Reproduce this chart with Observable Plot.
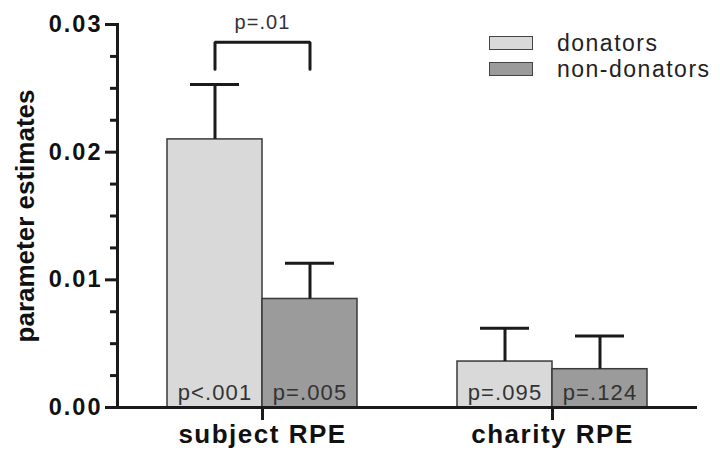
<!DOCTYPE html>
<html>
<head>
<meta charset="utf-8">
<script src="https://cdn.jsdelivr.net/npm/d3@7"></script>
<script src="https://cdn.jsdelivr.net/npm/@observablehq/plot@0.6"></script>
<style>
  body { margin: 0; background: #fff; }
  #chart { position: relative; width: 720px; height: 454px; font-family: "Liberation Sans", Arial, sans-serif; }
  #chart svg text { letter-spacing: 1.1px; }
  #chart svg text.vertical { letter-spacing: 0; }
  .legend { position: absolute; left: 489px; top: 30px; }
  .legend-row { display: flex; align-items: center; height: 26px; font-size: 23px; color: #222; letter-spacing: 1.5px; }
  .swatch { width: 44px; height: 14px; border: 1.5px solid #444; box-sizing: border-box; margin-right: 24px; }
</style>
</head>
<body>
<div id="chart"></div>
<script>
// Categories, groups and the estimates (with standard errors) per group
const categories = ["subject RPE", "charity RPE"];
const groups = ["donators", "non-donators"];
const groupFills = ["#d9d9d9", "#9b9b9b"];
const estimates = [[0.0210, 0.0085], [0.0036, 0.0030]];
const errors = [[0.0043, 0.0028], [0.0026, 0.0026]];
const pValues = [["p<.001", "p=.005"], ["p=.095", "p=.124"]];

// Axis ticks
const yTicks = [0, 0.01, 0.02, 0.03];
const yMinorTicks = [0.0025, 0.005, 0.0075, 0.0125, 0.015, 0.0175, 0.0225, 0.025, 0.0275];
const yLabel = "parameter estimates";

// Between-group comparison for subject RPE
const comparisonCategory = "subject RPE";
const comparisonLabel = "p=.01";
const bracketTop = 0.0286;
const bracketFoot = 0.0265;

const rows = categories.flatMap((category, i) =>
  groups.map((group, j) => ({
    category, group, value: estimates[i][j], se: errors[i][j], p: pValues[i][j]
  }))
);
const bracket = [
  {category: comparisonCategory, group: groups[0], y: bracketFoot},
  {category: comparisonCategory, group: groups[0], y: bracketTop},
  {category: comparisonCategory, group: groups[1], y: bracketTop},
  {category: comparisonCategory, group: groups[1], y: bracketFoot}
];
const comparison = [{category: comparisonCategory, y: bracketTop, label: comparisonLabel}];

const ink = "#1a1a1a";

const chart = Plot.plot({
  width: 720,
  height: 454,
  marginLeft: 117,
  marginRight: 23,
  marginTop: 24,
  marginBottom: 47,
  style: {fontFamily: "'Liberation Sans', Arial, sans-serif", background: "white", color: ink},
  fx: {domain: categories, padding: 0, label: null},
  x: {domain: groups, paddingInner: 0, paddingOuter: 0.52, axis: null},
  y: {domain: [0, 0.03], label: null},
  color: {domain: groups, range: groupFills},
  marks: [
    Plot.barY(rows, {fx: "category", x: "group", y: "value", fill: "group", stroke: "#3a3a3a", strokeWidth: 1.5}),
    Plot.ruleX(rows, {fx: "category", x: "group", y1: "value", y2: d => d.value + d.se, stroke: ink, strokeWidth: 3}),
    Plot.tickY(rows, {fx: "category", x: "group", y: d => d.value + d.se, insetLeft: 23, insetRight: 23, stroke: ink, strokeWidth: 3}),
    Plot.text(rows, {fx: "category", x: "group", y: 0, text: "p", lineAnchor: "bottom", dy: -8, fontSize: 22, fill: "#333"}),
    Plot.line(bracket, {fx: "category", x: "group", y: "y", stroke: ink, strokeWidth: 3, strokeLinejoin: "miter", curve: "linear"}),
    Plot.text(comparison, {fx: "category", y: "y", text: "label", lineAnchor: "bottom", dy: -13, fontSize: 20, fill: "#333"}),
    Plot.ruleY([0], {stroke: ink, strokeWidth: 3}),
    Plot.frame({anchor: "left", facetAnchor: "left", stroke: ink, strokeWidth: 3}),
    Plot.axisY({ticks: yMinorTicks, tickSize: 7, fill: "none", stroke: ink, strokeWidth: 3, label: null}),
    Plot.axisY({ticks: yTicks, tickSize: 12, tickPadding: 3, tickFormat: d3.format(".2f"),
      fontSize: 23.5, fontWeight: "bold", fill: "#111", stroke: ink, strokeWidth: 3, label: null}),
    Plot.text([yLabel], {text: d => d, frameAnchor: "left", facetAnchor: "left", rotate: -90, dx: -92,
      textAnchor: "middle", fontSize: 26, fontWeight: "bold", fill: "#111"}),
    Plot.axisFx({anchor: "bottom", tickSize: 13, tickPadding: 4, fontSize: 26, fontWeight: "bold",
      fill: "#111", stroke: ink, strokeWidth: 3, label: null})
  ]
});

const container = document.getElementById("chart");
container.appendChild(chart);
const svg = d3.select(chart);
svg.selectAll('g[aria-label="y-axis tick label"] text').style("letter-spacing", "2px");
svg.selectAll('g[aria-label="fx-axis tick label"] text').style("letter-spacing", "1.5px");
// the rotated axis title keeps its natural spacing
svg.selectAll("text")
  .filter(function () { return (this.getAttribute("transform") || "").includes("rotate"); })
  .classed("vertical", true)
  .style("letter-spacing", "0px");

// Legend drawn on top of the plot area
const legend = document.createElement("div");
legend.className = "legend";
groups.forEach((g, i) => {
  const row = document.createElement("div");
  row.className = "legend-row";
  const sw = document.createElement("span");
  sw.className = "swatch";
  sw.style.background = groupFills[i];
  const label = document.createElement("span");
  label.textContent = g;
  row.append(sw, label);
  legend.appendChild(row);
});
container.appendChild(legend);
</script>
</body>
</html>
